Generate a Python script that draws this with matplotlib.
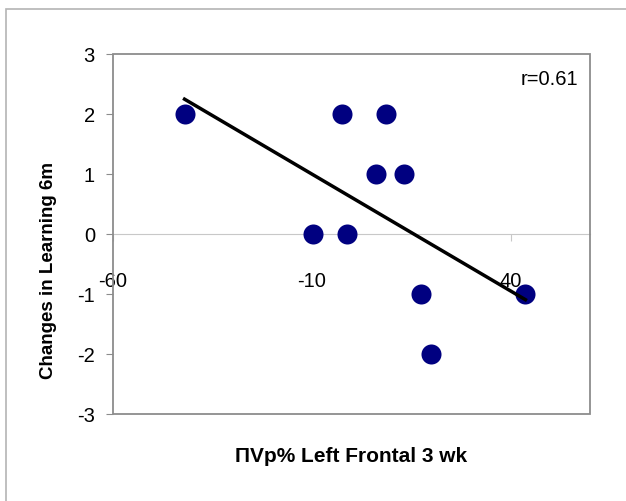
import numpy as np
import matplotlib
matplotlib.use("Agg")
import matplotlib.pyplot as plt
from matplotlib.patches import Rectangle

plt.rcParams['font.family'] = ['Liberation Sans', 'DejaVu Sans']
plt.rcParams['axes.unicode_minus'] = False

# ----------------------------------------------------
# DATA
# ----------------------------------------------------
vp_change = [-42, -2.5, 8.75, 6.25, 13.25, -9.75, -1.25, 17.5, 43.75, 20]
learning_change = [2, 2, 2, 1, 1, 0, 0, -1, -1, -2]
x_ticks = [-60, -10, 40]
y_ticks = [-3, -2, -1, 0, 1, 2, 3]
r_label = "r=0.61"

# ----------------------------------------------------
# FIGURE
# ----------------------------------------------------
fig = plt.figure(figsize=(6.26, 5.02), dpi=100)
ax = fig.add_axes([113 / 626, 87 / 502, 477 / 626, 360 / 502])

# outer chart frame
fig.patches.append(Rectangle((6 / 626, -0.1), 1.2, 1.1 - 10 / 502,
                             transform=fig.transFigure, fill=False,
                             edgecolor="#b4b4b4", linewidth=1.2))

ax.scatter(vp_change, learning_change, s=20 ** 2 * 0.52, color="#000080",
           zorder=3, linewidths=0)

# linear trendline
slope, intercept = np.polyfit(vp_change, learning_change, 1)
xs = np.array([min(vp_change), max(vp_change)])
ax.plot(xs, slope * xs + intercept, color="black", linewidth=2.5, zorder=4)

ax.set_xlim(-60, 60)
ax.set_ylim(-3, 3)
ax.set_xticks(x_ticks)
ax.set_yticks(y_ticks)

# x axis crosses at zero, plot area gets its own box
ax.spines['bottom'].set_position(('data', 0))
ax.spines['bottom'].set_color("#c8c8c8")
ax.spines['bottom'].set_zorder(1)
for side in ['top', 'right', 'left']:
    ax.spines[side].set_visible(False)
ax.add_patch(Rectangle((0, 0), 1, 1, transform=ax.transAxes, fill=False,
                       edgecolor="#8c8c8c", linewidth=1.3, zorder=2,
                       clip_on=False))

ax.tick_params(axis='x', direction='out', length=5, color="#c8c8c8",
               labelsize=14.5, pad=22)
ax.tick_params(axis='y', direction='out', length=5, color="#8c8c8c",
               labelsize=14.5, pad=8)

ax.set_ylabel("Changes in Learning 6m", fontsize=13.5, fontweight='bold')
ax.yaxis.set_label_coords(-0.118, 0.40)
ax.set_xlabel("\u03a0Vp% Left Frontal 3 wk", fontsize=15, fontweight='bold')
ax.xaxis.set_label_coords(0.5, -0.088)

ax.text(0.975, 0.917, r_label, transform=ax.transAxes, ha='right',
        va='baseline', fontsize=14.5)

fig.savefig("out.png", dpi=100)
